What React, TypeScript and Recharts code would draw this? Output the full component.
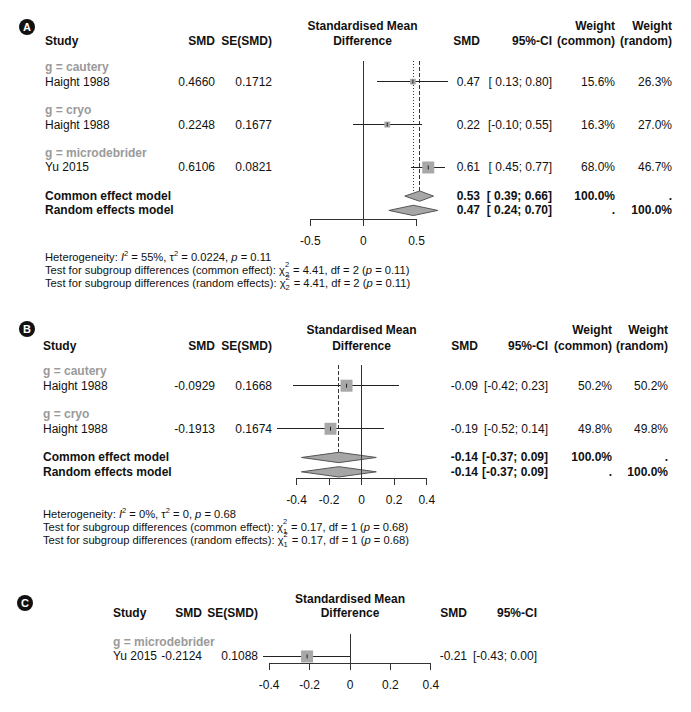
import React from 'react';
import { ComposedChart, XAxis, YAxis, Scatter, Area, ReferenceLine, ErrorBar } from 'recharts';

const FONT = '"Liberation Sans", Arial, Helvetica, sans-serif';

// panel A
const groupsA = ['cautery', 'cryo', 'microdebrider'];
const studiesA = ['Haight 1988', 'Haight 1988', 'Yu 2015'];
const smdA = [0.466, 0.2248, 0.6106];
const seA = [0.1712, 0.1677, 0.0821];
const lowerA = [0.13, -0.1, 0.45];
const upperA = [0.8, 0.55, 0.77];
const wCommonA = [15.6, 16.3, 68.0];
const wRandomA = [26.3, 27.0, 46.7];
const pooledEstA = [0.53, 0.47]; // common, random
const pooledLowerA = [0.39, 0.24];
const pooledUpperA = [0.66, 0.7];
const ticksA = [-0.5, 0, 0.5];
const hetA = ['55%', '0.0224', '0.11'];
const subgroupA = ['4.41', '2', '0.11'];

// panel B
const groupsB = ['cautery', 'cryo'];
const studiesB = ['Haight 1988', 'Haight 1988'];
const smdB = [-0.0929, -0.1913];
const seB = [0.1668, 0.1674];
const lowerB = [-0.42, -0.52];
const upperB = [0.23, 0.14];
const wCommonB = [50.2, 49.8];
const wRandomB = [50.2, 49.8];
const pooledEstB = [-0.14, -0.14];
const pooledLowerB = [-0.37, -0.37];
const pooledUpperB = [0.09, 0.09];
const ticksB = [-0.4, -0.2, 0, 0.2, 0.4];
const hetB = ['0%', '0', '0.68'];
const subgroupB = ['0.17', '1', '0.68'];

// panel C
const groupsC = ['microdebrider'];
const studiesC = ['Yu 2015'];
const smdC = [-0.2124];
const seC = [0.1088];
const lowerC = [-0.43];
const upperC = [0.0];
const wCommonC = [100.0];
const ticksC = [-0.4, -0.2, 0, 0.2, 0.4];

const modelLabels = ['Common effect model', 'Random effects model'];

const f2 = (v: number) => v.toFixed(2);
const ciText = (lo: number, hi: number) => `[${lo >= 0 ? ' ' : ''}${f2(lo)}; ${f2(hi)}]`;

const T = ({ x, y, a = 'left', b = false, c = '#111', fs = 12, children }: any) => {
  const style: React.CSSProperties = {
    position: 'absolute', top: y - 7, lineHeight: '14px', fontSize: fs,
    fontWeight: b ? 700 : 400, color: c, whiteSpace: 'pre', fontFamily: FONT,
  };
  if (a === 'left') style.left = x;
  else if (a === 'right') style.right = 691 - x;
  else { style.left = x; style.transform = 'translateX(-50%)'; }
  return <div style={style}>{children}</div>;
};

const Sup = ({ children }: any) => (
  <span style={{ fontSize: 7.5, position: 'relative', top: -5 }}>{children}</span>
);

// chi-square with df stacked under the power, like R plotmath
const Chi = ({ df }: { df: string }) => (
  <span>
    χ
    <span style={{ position: 'relative', display: 'inline-block', width: 5, height: 10 }}>
      <span style={{ position: 'absolute', left: 0, top: -3, fontSize: 7.5, lineHeight: '8px' }}>2</span>
      <span style={{ position: 'absolute', left: 0, top: 7, fontSize: 7.5, lineHeight: '8px' }}>{df}</span>
    </span>
  </span>
);

const Badge = ({ x, y, label }: any) => (
  <div style={{
    position: 'absolute', left: x - 8, top: y - 8, width: 16, height: 16, borderRadius: 8,
    background: '#111', color: '#fff', fontSize: 11, fontWeight: 700, fontFamily: FONT,
    lineHeight: '16px', textAlign: 'center',
  }}>{label}</div>
);

const SquareShape = (p: any) => {
  const { cx, cy, payload } = p;
  const s = payload.side;
  return (
    <g>
      <rect x={cx - s / 2} y={cy - s / 2} width={s} height={s} fill="#a8a8a8" />
      <line x1={cx} x2={cx} y1={cy - 2} y2={cy + 2} stroke="#222" strokeWidth={1} />
    </g>
  );
};

type PlotProps = {
  left: number; top: number; width: number; plotHeight: number;
  xDomain: [number, number]; yMax: number; ticks: number[]; zeroTop: number;
  est: number[]; lower: number[]; upper: number[]; weight: number[];
  pooledEst?: number[]; pooledLower?: number[]; pooledUpper?: number[];
};

const ForestPlot = (p: PlotProps) => {
  const n = p.est.length;
  const maxW = Math.max(...p.weight);
  const points = p.est.map((e, i) => ({
    x: e, y: 2 + 3 * i, ci: [e - p.lower[i], p.upper[i] - e], side: 12 * Math.sqrt(p.weight[i] / maxW),
  }));
  const h = 0.36;
  const pooled = p.pooledEst || [];
  const diamonds = pooled.map((e, j) => {
    const r = 3 * n + 1 + j;
    return [
      { x: p.pooledLower![j], band: [r, r] },
      { x: e, band: [r - h, r + h] },
      { x: p.pooledUpper![j], band: [r, r] },
    ];
  });
  const lineBottom = 3 * n + 1 - h;
  return (
    <div style={{ position: 'absolute', left: p.left, top: p.top }}>
      <ComposedChart width={p.width} height={p.plotHeight + 30} margin={{ top: 0, right: 0, bottom: 0, left: 0 }}>
        <XAxis
          type="number" dataKey="x" domain={p.xDomain} ticks={p.ticks} allowDataOverflow interval={0}
          axisLine={false} tickLine={{ stroke: '#333', shapeRendering: 'crispEdges' }} tickSize={7} tickMargin={10}
          height={30} tick={{ fontSize: 12, fill: '#111', fontFamily: FONT }}
        />
        <YAxis type="number" dataKey="y" domain={[0, p.yMax]} reversed hide allowDataOverflow />
        <ReferenceLine
          segment={[{ x: p.ticks[0], y: p.yMax }, { x: p.ticks[p.ticks.length - 1], y: p.yMax }]}
          stroke="#333" ifOverflow="visible" shapeRendering="crispEdges"
        />
        <ReferenceLine
          segment={[{ x: 0, y: p.zeroTop }, { x: 0, y: p.yMax }]}
          stroke="#333" ifOverflow="visible" shapeRendering="crispEdges"
        />
        {pooled.length > 0 && (
          <ReferenceLine
            segment={[{ x: pooled[0], y: p.zeroTop }, { x: pooled[0], y: lineBottom }]}
            stroke="#333" strokeDasharray="4 2" ifOverflow="visible" shapeRendering="crispEdges"
          />
        )}
        {pooled.length > 1 && (
          <ReferenceLine
            segment={[{ x: pooled[1], y: p.zeroTop }, { x: pooled[1], y: lineBottom }]}
            stroke="#333" strokeDasharray="1 2" ifOverflow="visible" shapeRendering="crispEdges"
          />
        )}
        {diamonds.map((d, j) => (
          <Area
            key={j} data={d} dataKey="band" type="linear" fill="#a6a6a6" fillOpacity={1} stroke="#555"
            dot={false} activeDot={false} isAnimationActive={false} legendType="none"
          />
        ))}
        <Scatter data={points} shape={SquareShape} isAnimationActive={false}>
          <ErrorBar dataKey="ci" direction="x" width={0} stroke="#222" strokeWidth={1} shapeRendering="crispEdges" />
        </Scatter>
      </ComposedChart>
    </div>
  );
};

export default function App() {
  const A = { top: 53, plotHeight: 166, yMax: 11.6 };
  const rA = (k: number) => A.top + (k * A.plotHeight) / A.yMax;
  const B = { top: 357, plotHeight: 121, yMax: 8.43 };
  const rB = (k: number) => B.top + (k * B.plotHeight) / B.yMax;
  const C = { top: 628, plotHeight: 35, yMax: 2.46 };
  const rC = (k: number) => C.top + (k * C.plotHeight) / C.yMax;

  const colA = { study: 45, smd: 215, se: 272, est: 480, ci: 552, wc: 615, wr: 672 };
  const colB = { study: 43, smd: 215, se: 272, est: 478, ci: 548, wc: 612, wr: 668 };
  const colC = { study: 113, smd: 202, se: 258, est: 467, ci: 537 };

  const renderRows = (
    col: any, r: (k: number) => number, groups: string[], studies: string[], smd: number[], se: number[],
    lo: number[], hi: number[], wc?: number[], wr?: number[],
  ) => groups.map((g, i) => (
    <React.Fragment key={i}>
      <T x={col.study} y={r(1 + 3 * i)} b c="#9a9a9a">{`g = ${g}`}</T>
      <T x={col.study} y={r(2 + 3 * i)}>{studies[i]}</T>
      <T x={col.smd} y={r(2 + 3 * i)} a="right">{smd[i].toFixed(4)}</T>
      <T x={col.se} y={r(2 + 3 * i)} a="right">{se[i].toFixed(4)}</T>
      <T x={col.est} y={r(2 + 3 * i)} a="right">{f2(smd[i])}</T>
      <T x={col.ci} y={r(2 + 3 * i)} a="right">{ciText(lo[i], hi[i])}</T>
      {wc && <T x={col.wc} y={r(2 + 3 * i)} a="right">{`${wc[i].toFixed(1)}%`}</T>}
      {wr && <T x={col.wr} y={r(2 + 3 * i)} a="right">{`${wr[i].toFixed(1)}%`}</T>}
    </React.Fragment>
  ));

  const renderModels = (col: any, r: (k: number) => number, n: number, est: number[], lo: number[], hi: number[]) =>
    modelLabels.map((m, j) => (
      <React.Fragment key={m}>
        <T x={col.study} y={r(3 * n + 1 + j)} b>{m}</T>
        <T x={col.est} y={r(3 * n + 1 + j)} a="right" b>{f2(est[j])}</T>
        <T x={col.ci} y={r(3 * n + 1 + j)} a="right" b>{ciText(lo[j], hi[j])}</T>
        <T x={col.wc} y={r(3 * n + 1 + j)} a="right" b>{j === 0 ? '100.0%' : '.'}</T>
        <T x={col.wr} y={r(3 * n + 1 + j)} a="right" b>{j === 1 ? '100.0%' : '.'}</T>
      </React.Fragment>
    ));

  const header = (col: any, y1: number, y2: number, center: number, weights: boolean) => (
    <>
      <T x={center} y={y1} a="center" b>Standardised Mean</T>
      <T x={center} y={y2} a="center" b>Difference</T>
      <T x={col.study} y={y2} b>Study</T>
      <T x={col.smd} y={y2} a="right" b>SMD</T>
      <T x={col.se} y={y2} a="right" b>SE(SMD)</T>
      <T x={col.est} y={y2} a="right" b>SMD</T>
      <T x={col.ci} y={y2} a="right" b>95%-CI</T>
      {weights && (
        <>
          <T x={col.wc} y={y1} a="right" b>Weight</T>
          <T x={col.wc} y={y2} a="right" b>(common)</T>
          <T x={col.wr} y={y1} a="right" b>Weight</T>
          <T x={col.wr} y={y2} a="right" b>(random)</T>
        </>
      )}
    </>
  );

  const stats = (x: number, y: number, het: string[], sub: string[]) => (
    <>
      <T x={x} y={y} fs={11.2}>
        Heterogeneity: <i>I</i><Sup>2</Sup> = {het[0]}, τ<Sup>2</Sup> = {het[1]}, <i>p</i> = {het[2]}
      </T>
      <T x={x} y={y + 13} fs={11.2}>
        Test for subgroup differences (common effect): <Chi df={sub[1]} /> = {sub[0]}, df = {sub[1]} (<i>p</i> = {sub[2]})
      </T>
      <T x={x} y={y + 26} fs={11.2}>
        Test for subgroup differences (random effects): <Chi df={sub[1]} /> = {sub[0]}, df = {sub[1]} (<i>p</i> = {sub[2]})
      </T>
    </>
  );

  return (
    <div style={{ position: 'absolute', left: 0, top: 0, width: 691, height: 712, background: '#fff', fontFamily: FONT }}>
      <ForestPlot
        left={289} top={A.top} width={170} plotHeight={A.plotHeight} xDomain={[-0.7, 0.9]} yMax={A.yMax}
        ticks={ticksA} zeroTop={0.56} est={smdA} lower={lowerA} upper={upperA} weight={wCommonA}
        pooledEst={pooledEstA} pooledLower={pooledLowerA} pooledUpper={pooledUpperA}
      />
      <ForestPlot
        left={264} top={B.top} width={179} plotHeight={B.plotHeight} xDomain={[-0.6, 0.5]} yMax={B.yMax}
        ticks={ticksB} zeroTop={0.55} est={smdB} lower={lowerB} upper={upperB} weight={wCommonB}
        pooledEst={pooledEstB} pooledLower={pooledLowerB} pooledUpper={pooledUpperB}
      />
      <ForestPlot
        left={249} top={C.top} width={202} plotHeight={C.plotHeight} xDomain={[-0.5, 0.5]} yMax={C.yMax}
        ticks={ticksC} zeroTop={0.41} est={smdC} lower={lowerC} upper={upperC} weight={wCommonC}
      />

      <Badge x={27} y={27} label="A" />
      {header(colA, 26, 41, 362.5, true)}
      {renderRows(colA, rA, groupsA, studiesA, smdA, seA, lowerA, upperA, wCommonA, wRandomA)}
      {renderModels(colA, rA, groupsA.length, pooledEstA, pooledLowerA, pooledUpperA)}
      {stats(45, 257, hetA, subgroupA)}

      <Badge x={27} y={329} label="B" />
      {header(colB, 330, 346, 361.5, true)}
      {renderRows(colB, rB, groupsB, studiesB, smdB, seB, lowerB, upperB, wCommonB, wRandomB)}
      {renderModels(colB, rB, groupsB.length, pooledEstB, pooledLowerB, pooledUpperB)}
      {stats(43, 514, hetB, subgroupB)}

      <Badge x={25} y={603} label="C" />
      {header(colC, 599, 613, 350, false)}
      {renderRows(colC, rC, groupsC, studiesC, smdC, seC, lowerC, upperC)}
    </div>
  );
}
